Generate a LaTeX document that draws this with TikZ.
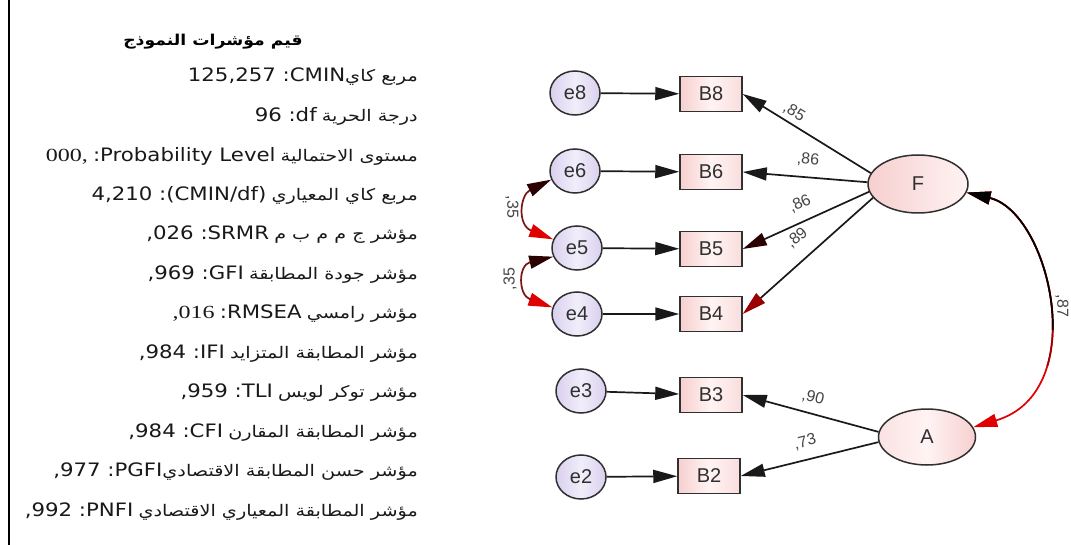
\documentclass[tikz,border=0pt]{standalone}
\usepackage{fontspec}
\setmainfont{Liberation Sans}
\newfontfamily\listfont{DejaVu Sans}[FakeStretch=1.15]
\newfontfamily\listserif{Liberation Serif}[FakeStretch=1.3]
\newfontfamily\arabicfont[Script=Arabic,FakeStretch=1.2]{DejaVu Sans}
\newfontfamily\titlefont[Script=Arabic,FakeStretch=1.15]{DejaVu Sans}
\TeXXeTstate=1
\usetikzlibrary{arrows.meta,shapes.geometric}
\definecolor{lav}{HTML}{D9D0EE}
\definecolor{lavlight}{HTML}{F1EEFA}
\definecolor{pk}{HTML}{F7CFCF}
\definecolor{pklight}{HTML}{FFF3F3}
\definecolor{bord}{HTML}{303030}
\definecolor{lblc}{HTML}{454545}
\definecolor{covred}{HTML}{E00000}
\definecolor{darktip}{HTML}{2A0000}
\definecolor{midred}{HTML}{9A0000}
\definecolor{curvec}{HTML}{7A1515}
\begin{document}
\begin{tikzpicture}[x=1pt,y=-1pt,
  enode/.style={ellipse, draw=bord, line width=1.5pt, minimum width=50pt, minimum height=44pt, inner sep=0pt,
    left color=lav, right color=lav, middle color=lavlight, text=bord, font=\fontsize{20}{24}\selectfont},
  bnode/.style={rectangle, draw=bord, line width=1.5pt, minimum width=62pt, minimum height=35pt, inner sep=0pt,
    left color=pk, right color=pk!70, middle color=pklight, text=bord, font=\fontsize{20}{24}\selectfont},
  lnode/.style={ellipse, draw=bord, line width=1.5pt, minimum width=100pt, minimum height=58pt, inner sep=0pt,
    left color=pk, right color=pklight, text=bord, font=\fontsize{20}{24}\selectfont},
  listline/.style={anchor=east, inner sep=0pt, text=black!90, font=\fontsize{18.5}{21}\selectfont},
  pathlbl/.style={inner sep=0pt, text=lblc, font=\fontsize{16}{18}\selectfont},
  conn/.style={draw=black!90, line width=1.7pt},
  tip/.style={-{Triangle[length=24pt,width=13pt]}},
]
\newcommand{\arpart}[1]{{\arabicfont\fontsize{16}{19}\selectfont\beginR #1\endR}}
\useasboundingbox (0,0) rectangle (1071,545);
\fill[white] (0,0) rectangle (1071,545);
\draw[line width=2.5pt] (9,0) -- (9,545);

% ---- list of fit indices
\node[inner sep=0pt, font=\fontsize{15}{18}\selectfont\titlefont\bfseries] (title) at (213,42) {\beginR قيم مؤشرات النموذج\endR};
\node[listline] (l1) at (418,77) {{\listfont 125,257 :CMIN}\arpart{مربع كاي}};
\node[listline] (l2) at (418,116.5) {{\listfont 96 :df} \arpart{درجة الحرية}};
\node[listline] (l3) at (418,156) {{\listserif 000,} {\listfont :Probability Level} \arpart{مستوى الاحتمالية}};
\node[listline] (l4) at (418,195.5) {{\listfont 4,210 :(CMIN/df)} \arpart{مربع كاي المعياري}};
\node[listline] (l5) at (418,235) {{\listfont ,026 :SRMR} \arpart{مؤشر ج م م ب م}};
\node[listline] (l6) at (418,274.5) {{\listfont ,969 :GFI} \arpart{مؤشر جودة المطابقة}};
\node[listline] (l7) at (418,314) {{\listserif ,016} {\listfont :RMSEA} \arpart{مؤشر رامسي}};
\node[listline] (l8) at (418,353.5) {{\listfont ,984 :IFI} \arpart{مؤشر المطابقة المتزايد}};
\node[listline] (l9) at (418,393) {{\listfont ,959 :TLI} \arpart{مؤشر توكر لويس}};
\node[listline] (l10) at (418,432.5) {{\listfont ,984 :CFI} \arpart{مؤشر المطابقة المقارن}};
\node[listline] (l11) at (418,472) {{\listfont ,977 :PGFI}\arpart{مؤشر حسن المطابقة الاقتصادي}};
\node[listline] (l12) at (418,511.5) {{\listfont ,992 :PNFI} \arpart{مؤشر المطابقة المعياري الاقتصادي}};

% ---- nodes
\node[enode] (e8) at (575,93) {e8};
\node[enode] (e6) at (575,171) {e6};
\node[enode] (e5) at (577,248) {e5};
\node[enode] (e4) at (577,314) {e4};
\node[enode] (e3) at (581,391) {e3};
\node[enode] (e2) at (581,477) {e2};
\node[bnode] (B8) at (711,94) {B8};
\node[bnode] (B6) at (711,172) {B6};
\node[bnode] (B5) at (711,249) {B5};
\node[bnode] (B4) at (711,314) {B4};
\node[bnode] (B3) at (711,395) {B3};
\node[bnode] (B2) at (709,476) {B2};
\node[lnode] (F) at (918,184) {F};
\node[lnode, minimum width=97pt, minimum height=56pt, left color=pk!60, right color=pk, middle color=pklight] (A) at (927,437) {A};

% ---- error paths
\foreach \i in {8,6,5,4,3,2} \draw[conn,tip] (e\i) -- (B\i);

% ---- loadings
\draw[conn,tip] (F.167) -- (B8.east);
\draw[conn,tip] (F.178) -- (B6.east);
\draw[conn,-{Triangle[length=24pt,width=13pt,color=darktip]}] (F.189) -- (B5.east);
\draw[conn,-{Triangle[length=24pt,width=13pt,color=midred]}] (F.197) -- (B4.east);
\draw[conn,tip] (A.174) -- (B3.east);
\draw[conn,tip] (A.186) -- (B2.east);

% ---- covariances between errors
\draw[curvec, line width=1.7pt, {Triangle[length=24pt,width=13pt,color=darktip]}-{Triangle[length=24pt,width=13pt,color=covred]}]
  (e6.200) .. controls (520,195) and (517,225) .. (e5.160);
\draw[curvec, line width=1.7pt, {Triangle[length=24pt,width=13pt,color=darktip]}-{Triangle[length=24pt,width=13pt,color=covred]}]
  (e5.200) .. controls (518,265) and (518,295) .. (e4.165);

% ---- covariance F <-> A (black at F, red at A)
\draw[covred, line width=1.7pt, {Triangle[length=24pt,width=13pt]}-{Triangle[length=24pt,width=13pt]}]
  (F.-10) .. controls (1050,212) and (1092,392) .. (A.12);
\begin{scope}
\clip (940,150) rectangle (1100,365);
\draw[midred, line width=1.7pt, {Triangle[length=24pt,width=13pt]}-{Triangle[length=24pt,width=13pt]}]
  (F.-10) .. controls (1050,212) and (1092,392) .. (A.12);
\end{scope}
\begin{scope}
\clip (940,150) rectangle (1100,330);
\draw[black, line width=1.7pt, {Triangle[length=24pt,width=13pt]}-{Triangle[length=24pt,width=13pt]}]
  (F.-10) .. controls (1050,212) and (1092,392) .. (A.12);
\end{scope}

% ---- path labels
\node[pathlbl, rotate=-31] (p85) at (794,112) {,85};
\node[pathlbl, rotate=-5] (p86a) at (808,160) {,86};
\node[pathlbl, rotate=25] (p86b) at (800,204) {,86};
\node[pathlbl, rotate=40] (p89) at (797,238) {,89};
\node[pathlbl, rotate=-14] (p90) at (813,398) {,90};
\node[pathlbl, rotate=14] (p73) at (805,442) {,73};
\node[pathlbl, rotate=-90] (p87) at (1062,306) {,87};
\node[pathlbl, rotate=-90] (p35a) at (512,207) {,35};
\node[pathlbl, rotate=90] (p35b) at (510,279) {,35};
\end{tikzpicture}
\end{document}
